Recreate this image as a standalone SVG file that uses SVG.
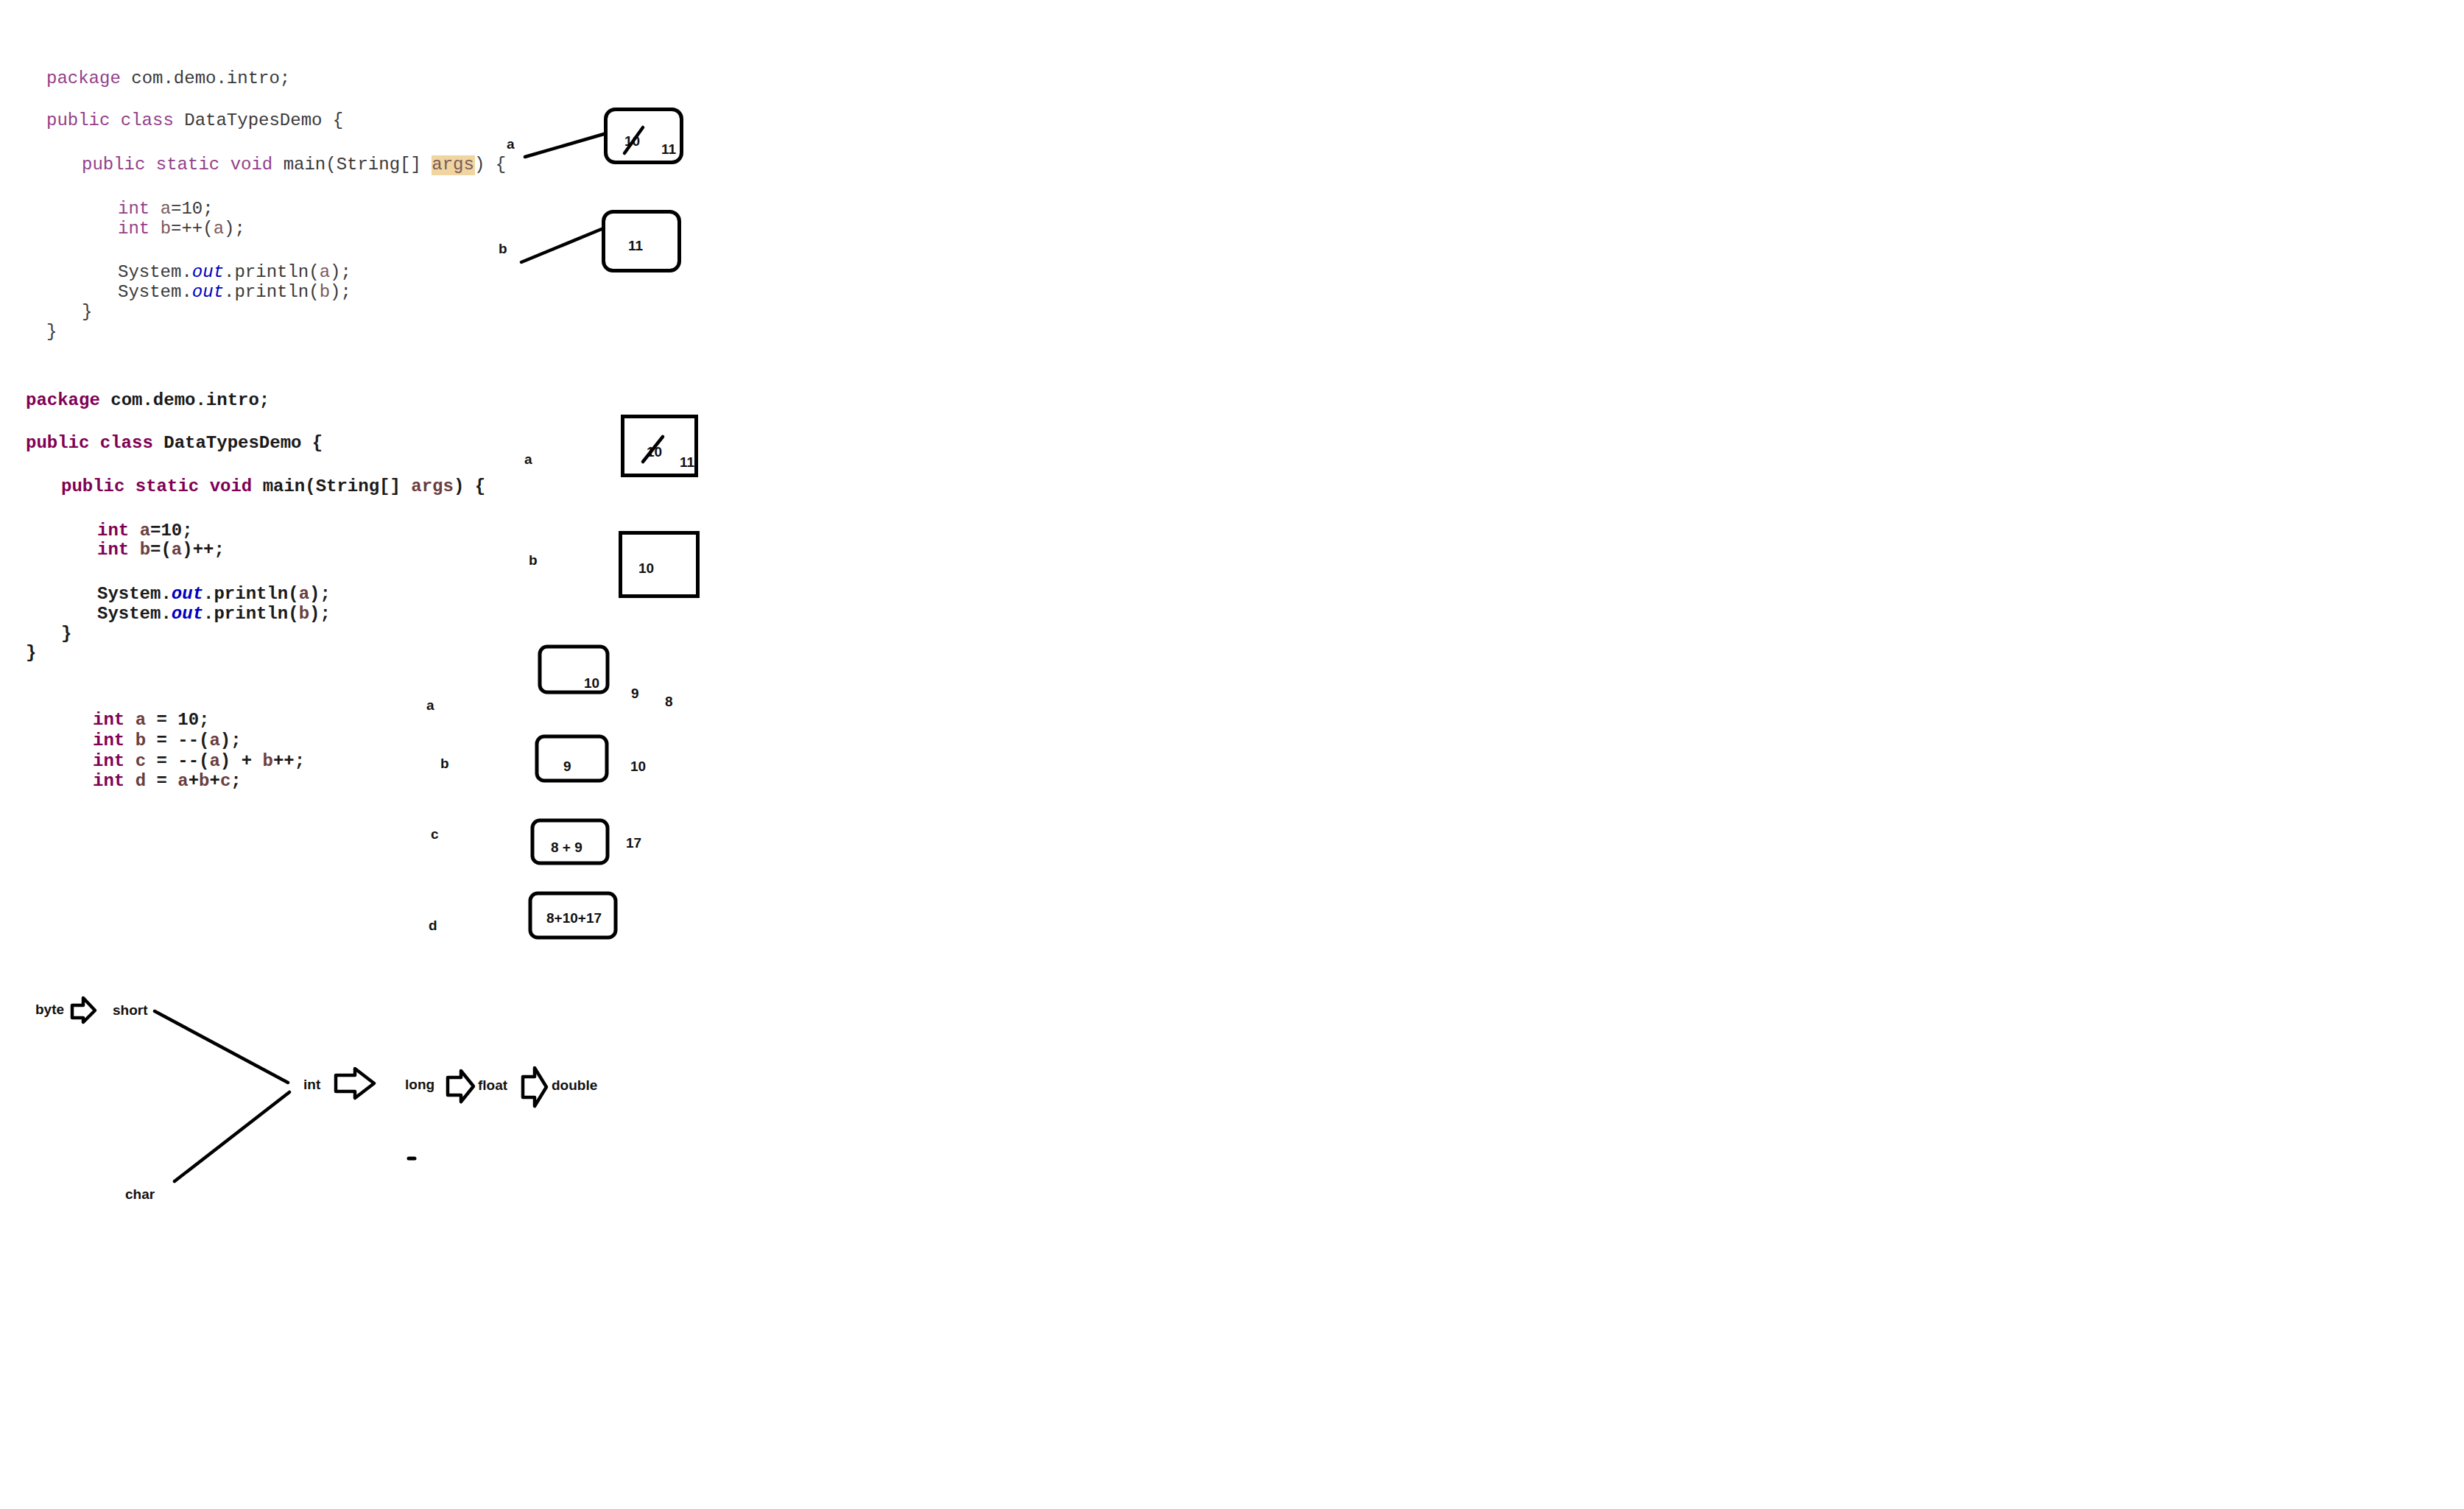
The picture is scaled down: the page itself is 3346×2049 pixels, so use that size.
<svg xmlns="http://www.w3.org/2000/svg" width="3346" height="2049" viewBox="0 0 3346 2049">
<style>
.code{font-family:"Liberation Mono","Courier New",monospace;font-size:24px;fill:#3a3a3a}
.thin .kw{fill:#93408a}
.thin .var{fill:#7a5a5a}
.bold{font-weight:bold;fill:#1a1a1a}
.bold .kw{fill:#7f0055}
.bold .var{fill:#6a3e3e}
.out{fill:#0000c0;font-style:italic}
.hand{font-family:"Liberation Sans",Arial,sans-serif;font-weight:bold;font-size:19px;fill:#111}
.box{fill:none;stroke:#000;stroke-width:5}
.ln{stroke:#000;stroke-width:4.5;stroke-linecap:round;fill:none}
.barrow{fill:#fff;stroke:#000;stroke-width:4.5;stroke-linejoin:round}
</style>
<rect width="3346" height="2049" fill="#fff"/>

<g id="code1" class="code thin">
<rect x="586" y="211" width="59" height="27" fill="#f0d5a0"/>
<text x="63" y="113"><tspan class="kw">package</tspan> com.demo.intro;</text>
<text x="63" y="170"><tspan class="kw">public class</tspan> DataTypesDemo {</text>
<text x="111" y="230"><tspan class="kw">public static void</tspan> main(String[] <tspan class="var">args</tspan>) {</text>
<text x="160" y="290"><tspan class="kw">int</tspan> <tspan class="var">a</tspan>=10;</text>
<text x="160" y="317"><tspan class="kw">int</tspan> <tspan class="var">b</tspan>=++(<tspan class="var">a</tspan>);</text>
<text x="160" y="376">System.<tspan class="out">out</tspan>.println(<tspan class="var">a</tspan>);</text>
<text x="160" y="403">System.<tspan class="out">out</tspan>.println(<tspan class="var">b</tspan>);</text>
<text x="111" y="430">}</text>
<text x="63" y="457">}</text>
</g>

<g id="code2" class="code bold">
<text x="35" y="550"><tspan class="kw">package</tspan> com.demo.intro;</text>
<text x="35" y="608"><tspan class="kw">public class</tspan> DataTypesDemo {</text>
<text x="83" y="667"><tspan class="kw">public static void</tspan> main(String[] <tspan class="var">args</tspan>) {</text>
<text x="132" y="727"><tspan class="kw">int</tspan> <tspan class="var">a</tspan>=10;</text>
<text x="132" y="753"><tspan class="kw">int</tspan> <tspan class="var">b</tspan>=(<tspan class="var">a</tspan>)++;</text>
<text x="132" y="813">System.<tspan class="out">out</tspan>.println(<tspan class="var">a</tspan>);</text>
<text x="132" y="840">System.<tspan class="out">out</tspan>.println(<tspan class="var">b</tspan>);</text>
<text x="83" y="867">}</text>
<text x="35" y="893">}</text>
</g>

<g id="code3" class="code bold">
<text x="126" y="984"><tspan class="kw">int</tspan> <tspan class="var">a</tspan> = 10;</text>
<text x="126" y="1012"><tspan class="kw">int</tspan> <tspan class="var">b</tspan> = --(<tspan class="var">a</tspan>);</text>
<text x="126" y="1040"><tspan class="kw">int</tspan> <tspan class="var">c</tspan> = --(<tspan class="var">a</tspan>) + <tspan class="var">b</tspan>++;</text>
<text x="126" y="1067"><tspan class="kw">int</tspan> <tspan class="var">d</tspan> = <tspan class="var">a</tspan>+<tspan class="var">b</tspan>+<tspan class="var">c</tspan>;</text>
</g>

<g id="connectors">
<line class="ln" x1="713" y1="213" x2="820" y2="182"/>
<line class="ln" x1="708" y1="356" x2="817" y2="311"/>
<line class="ln" x1="210" y1="1373" x2="391" y2="1470"/>
<line class="ln" x1="393" y1="1483" x2="237" y2="1604"/>
<polygon class="barrow" points="98,1365 113,1365 113,1355 129,1372 113,1388 113,1382 98,1382"/>
<polygon class="barrow" points="456,1460 482,1460 482,1451 508,1471 482,1491 482,1482 456,1482"/>
<polygon class="barrow" points="608,1463 626,1463 626,1454 643,1475 626,1496 626,1487 608,1487"/>
<polygon class="barrow" points="710,1462 726,1462 726,1450 742,1476 726,1502 726,1490 710,1490"/>
</g>

<g id="top-a" class="hand">
<text x="688" y="202">a</text>
<rect class="box" x="822.5" y="148.5" width="103" height="72" rx="13"/>
<text x="848" y="198">10</text>
<line class="ln" x1="848" y1="208" x2="873" y2="173"/>
<text x="898" y="209">11</text>
</g>
<g id="top-b" class="hand">
<text x="677" y="344">b</text>
<rect class="box" x="819.5" y="287.5" width="103" height="80" rx="13"/>
<text x="853" y="340">11</text>
</g>

<g id="mid-a" class="hand">
<text x="712" y="630">a</text>
<rect class="box" x="845.5" y="565.5" width="100" height="80"/>
<text x="878" y="620">10</text>
<line class="ln" x1="873" y1="627" x2="900" y2="593"/>
<text x="923" y="634">11</text>
</g>
<g id="mid-b" class="hand">
<text x="718" y="767">b</text>
<rect class="box" x="842.5" y="723.5" width="105" height="86"/>
<text x="867" y="778">10</text>
</g>

<g id="low-a" class="hand">
<text x="579" y="964">a</text>
<rect class="box" x="733" y="878" width="92" height="62" rx="10"/>
<text x="793" y="934">10</text>
<text x="857" y="948">9</text>
<text x="903" y="959">8</text>
</g>
<g id="low-b" class="hand">
<text x="598" y="1043">b</text>
<rect class="box" x="729" y="1000" width="95" height="60" rx="10"/>
<text x="765" y="1047">9</text>
<text x="856" y="1047">10</text>
</g>
<g id="low-c" class="hand">
<text x="585" y="1139">c</text>
<rect class="box" x="723" y="1114" width="102" height="58" rx="10"/>
<text x="748" y="1157">8 + 9</text>
<text x="850" y="1151">17</text>
</g>
<g id="low-d" class="hand">
<text x="582" y="1263">d</text>
<rect class="box" x="720" y="1213" width="116" height="60" rx="10"/>
<text x="742" y="1253">8+10+17</text>
</g>

<g id="type-byte" class="hand"><text x="48" y="1377">byte</text></g>
<g id="type-short" class="hand"><text x="153" y="1378">short</text></g>
<g id="type-char" class="hand"><text x="170" y="1628">char</text></g>
<g id="type-int" class="hand"><text x="412" y="1479">int</text></g>
<g id="type-long" class="hand"><text x="550" y="1479">long</text></g>
<g id="type-float" class="hand"><text x="649" y="1480">float</text></g>
<g id="type-double" class="hand"><text x="749" y="1480">double</text></g>
<g id="dot"><line class="ln" x1="555" y1="1573" x2="563" y2="1573" style="stroke-width:5"/></g>
</svg>
